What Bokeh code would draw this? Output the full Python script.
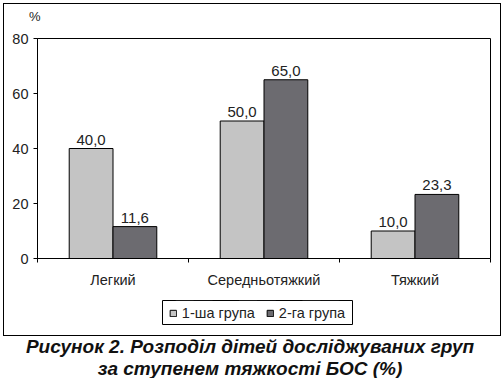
from bokeh.plotting import figure
from bokeh.models import (FixedTicker, Legend, LegendItem, ColumnDataSource,
                          Range1d, Div)
from bokeh.layouts import column
from bokeh.core.properties import value
from bokeh.embed import file_html
from bokeh.resources import INLINE

categories = ["Легкий", "Середньотяжкий", "Тяжкий"]
group1 = [40.0, 50.0, 10.0]
group2 = [11.6, 65.0, 23.3]
series_names = ["1-ша група", "2-га група"]
y_ticks = [0, 20, 40, 60, 80]
y_unit = "%"
caption = ["Рисунок 2. Розподіл дітей досліджуваних груп",
           "за ступенем тяжкості БОС (%)"]

FONT = "Liberation Sans"
C1, C2 = "#c4c4c4", "#6c6b70"
TXT = "#222222"
NC = len(categories)
BL, BR = 33, 10   # frame borders of the main plot (shared by the column)

# header with unit label
header = Div(text=f'<div style="margin-left:25px;margin-top:6px">{y_unit}</div>',
             width=496, height=20, margin=0,
             styles={"font-family": FONT, "font-size": "13px",
                     "line-height": "13px", "color": TXT})

p = figure(width=496, height=266, output_backend="svg", toolbar_location=None,
           x_range=Range1d(0, NC), y_range=Range1d(0, 80),
           min_border_left=BL, min_border_right=BR,
           min_border_top=14, min_border_bottom=32, margin=0)
p.background_fill_color = "white"
p.border_fill_color = "white"
p.outline_line_color = "black"
p.outline_line_width = 1
p.grid.visible = False

centers = [i + 0.5 for i in range(NC)]
bw = 0.29
fmt = lambda v: f"{v:.1f}".replace(".", ",")
src = ColumnDataSource(dict(
    x1=[c - bw / 2 for c in centers], x2=[c + bw / 2 for c in centers],
    g1=group1, g2=group2,
    l1=[fmt(v) for v in group1], l2=[fmt(v) for v in group2]))

p.vbar(x="x1", top="g1", width=bw, bottom=0, source=src,
       fill_color=C1, line_color="black", line_width=1)
p.vbar(x="x2", top="g2", width=bw, bottom=0, source=src,
       fill_color=C2, line_color="black", line_width=1)
for xc, yc, lc in (("x1", "g1", "l1"), ("x2", "g2", "l2")):
    p.text(x=xc, y=yc, text=lc, source=src, text_align="center",
           text_baseline="alphabetic", y_offset=-9, text_font=value(FONT),
           text_font_size="15px", text_color=TXT)

xa = p.xaxis[0]
xa.ticker = FixedTicker(ticks=centers, minor_ticks=list(range(NC + 1)))
xa.major_label_overrides = {c: cat for c, cat in zip(centers, categories)}
xa.major_tick_out = 0
xa.major_tick_in = 0
xa.minor_tick_out = 4
xa.minor_tick_in = 0
xa.minor_tick_line_color = "black"
xa.major_label_standoff = 9
ya = p.yaxis[0]
ya.ticker = FixedTicker(ticks=y_ticks, minor_ticks=[])
ya.major_tick_out = 4
ya.major_tick_in = 0
ya.major_label_standoff = 5
for ax in (xa, ya):
    ax.axis_line_color = "black"
    ax.major_tick_line_color = "black"
    ax.major_label_text_font = FONT
    ax.major_label_text_font_size = "14.5px"
    ax.major_label_text_color = TXT

# legend row: its own small figure whose frame is the legend box.
# The series are re-drawn there only to feed the legend; the view range
# (below zero) keeps the bars themselves out of sight.
LW = 190
lf = figure(width=LW + BL + BR, height=25, output_backend="svg",
            toolbar_location=None,
            x_range=Range1d(0, NC), y_range=Range1d(-2, -1),
            x_axis_type=None, y_axis_type=None, min_border=0,
            min_border_left=BL, min_border_right=BR,
            margin=(10, 0, 10, 158 - BL))
lf.outline_line_color = "black"
lf.outline_line_width = 1
lf.grid.visible = False
lf.border_fill_alpha = 0
lr1 = lf.vbar(x="x1", top="g1", width=bw, bottom=0, source=src,
              fill_color=C1, line_color="black", line_width=1)
lr2 = lf.vbar(x="x2", top="g2", width=bw, bottom=0, source=src,
              fill_color=C2, line_color="black", line_width=1)
legend = Legend(items=[LegendItem(label=series_names[0], renderers=[lr1]),
                       LegendItem(label=series_names[1], renderers=[lr2])],
                location="center", orientation="horizontal",
                border_line_alpha=0, background_fill_alpha=0,
                padding=0, margin=0, spacing=11,
                glyph_width=8, glyph_height=8, label_standoff=5,
                label_text_font=FONT, label_text_font_size="14.5px",
                label_text_color=TXT)
lf.add_layout(legend, "center")

box = column(header, p, lf, spacing=0, margin=(3, 0, 0, 3),
             styles={"border": "1px solid black"})

div = Div(text="<br>".join(caption), width=500, margin=0,
          styles={"font-family": FONT, "font-weight": "bold",
                  "font-style": "italic", "font-size": "19px",
                  "line-height": "22px", "text-align": "center",
                  "color": "#111111"})

layout = column(box, div, spacing=0, margin=0)
open("out.html", "w").write(file_html(layout, INLINE))
